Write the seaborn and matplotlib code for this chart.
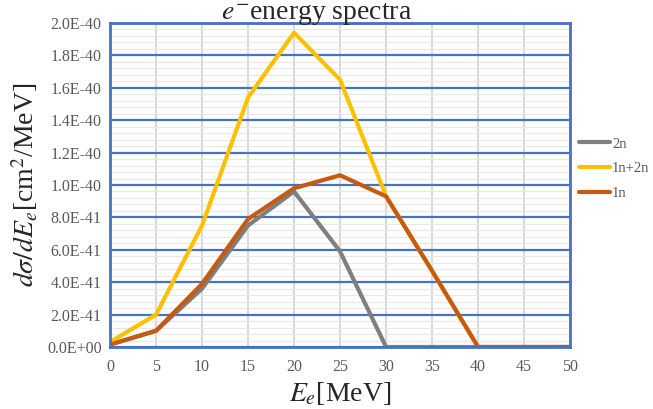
import numpy as np
import pandas as pd
import matplotlib
matplotlib.use("Agg")
import matplotlib.pyplot as plt
from matplotlib.ticker import FuncFormatter, MultipleLocator
import seaborn as sns

energy = [0, 5, 10, 15, 20, 25, 30, 35, 40, 45, 50]
s_2n = [1.5e-42, 1.0e-41, 3.6e-41, 7.5e-41, 9.6e-41, 5.9e-41, 0.0, 0.0, 0.0, 0.0, 0.0]
s_1n2n = [3.0e-42, 2.0e-41, 7.5e-41, 1.54e-40, 1.94e-40, 1.65e-40, 9.3e-41, 4.7e-41, 0.0, 0.0, 0.0]
s_1n = [1.5e-42, 1.0e-41, 3.9e-41, 7.9e-41, 9.8e-41, 1.06e-40, 9.3e-41, 4.7e-41, 0.0, 0.0, 0.0]
series_names = ["2n", "1n+2n", "1n"]
colors = ["#7F7F7F", "#FFC000", "#C55A11"]

df = pd.concat([
    pd.DataFrame({"E": energy, "v": vals, "s": name})
    for name, vals in zip(series_names, [s_2n, s_1n2n, s_1n])
])

sns.set_style("white")
plt.rcParams["font.family"] = ["Liberation Serif", "DejaVu Serif"]
plt.rcParams["mathtext.fontset"] = "stix"

fig = plt.figure(figsize=(6.53, 4.09), dpi=100)
ax = fig.add_axes([0.1685, 0.1516, 0.873 - 0.1685, 0.9438 - 0.1516])

sns.lineplot(data=df, x="E", y="v", hue="s", hue_order=series_names,
             palette=colors, linewidth=3.0, ax=ax, legend=True)
for ln in ax.get_lines():
    ln.set_solid_capstyle("round")
    ln.set_solid_joinstyle("round")

ax.set_xlim(0, 50)
ax.set_ylim(0, 2.0e-40)
ax.xaxis.set_major_locator(MultipleLocator(5))
ax.yaxis.set_major_locator(MultipleLocator(2.0e-41))
ax.yaxis.set_minor_locator(MultipleLocator(4.0e-42))
ax.yaxis.set_major_formatter(FuncFormatter(lambda v, p: f"{v:.1E}"))
ax.yaxis.get_offset_text().set_visible(False)

ax.grid(True, which="minor", axis="y", color="#E8E8E8", linewidth=0.8, zorder=0)
ax.grid(True, which="major", axis="x", color="#D9D9D9", linewidth=1.5, zorder=0)
ax.grid(True, which="major", axis="y", color="#4472C4", linewidth=1.6, zorder=0.5)
ax.set_axisbelow(True)
for sp in ax.spines.values():
    sp.set_color("#4472C4")
    sp.set_linewidth(2.0)

ax.tick_params(axis="both", which="both", length=0, labelsize=11.5, labelcolor="#595959")
ax.tick_params(axis="x", pad=9)
ax.tick_params(axis="y", pad=6)

ax.set_xlabel(r"$E_e$[MeV]", fontsize=20, labelpad=3)
ax.set_ylabel(r"$d\sigma/dE_e$[cm$^2$/MeV]", fontsize=20, labelpad=5)
ax.set_title(r"$e^{-}$energy spectra", fontsize=20, pad=3, x=0.448)

leg = ax.legend(loc="center left", bbox_to_anchor=(1.02, 0.55), frameon=False,
                fontsize=10.5, handlelength=2.1, labelspacing=0.8, handletextpad=0.15,
                borderpad=0, borderaxespad=0)
for t in leg.get_texts():
    t.set_color("#595959")
for l in leg.get_lines():
    l.set_linewidth(3.0)
    l.set_solid_capstyle("round")

fig.savefig("out.png", dpi=100)
